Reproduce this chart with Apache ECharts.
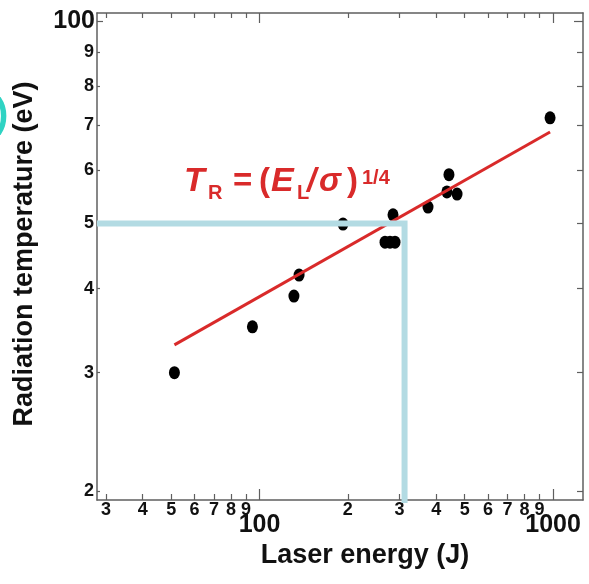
<!DOCTYPE html>
<html>
<head>
<meta charset="utf-8">
<script src="https://cdn.jsdelivr.net/npm/echarts@6/dist/echarts.min.js"></script>
<style>
  html, body { margin: 0; padding: 0; background: #fff; }
  #chart { width: 589px; height: 584px; }
</style>
</head>
<body>
<div id="chart"></div>
<script>
// Measured shots: laser energy (J) and radiation temperature (eV)
const shotEnergy      = [51.3, 94.6, 131, 136.4, 192.5, 267.7, 278.4, 289.5, 285, 375, 435, 442, 471, 977];
const shotTemperature = [3.00, 3.51, 3.90, 4.19, 4.99, 4.69, 4.69, 4.69, 5.15, 5.29, 5.57, 5.91, 5.53, 7.18];

// Scaling law T_R = (E_L/sigma)^(1/4): end points of the fitted line
const fitEnergy      = [51.3, 977];
const fitTemperature = [3.30, 6.84];

// Read-off guide: 5 eV reached at about 312 J
const guideEnergy      = [27.95, 312, 312];
const guideTemperature = [5, 5, 1.92];

// Axis extents (data units)
const xRange = [27.95, 1265];
const yRange = [1.94, 10.28];

// Tick positions and their labels
const xMinorTicks  = [30, 40, 50, 60, 70, 80, 90, 200, 300, 400, 500, 600, 700, 800, 900];
const xMinorLabels = ['3', '4', '5', '6', '7', '8', '9', '2', '3', '4', '5', '6', '7', '8', '9'];
const xMajorTicks  = [100, 1000];
const xMajorLabels = ['100', '1000'];
const yMinorTicks  = [2, 3, 4, 5, 6, 7, 8, 9];
const yMinorLabels = ['2', '3', '4', '5', '6', '7', '8', '9'];
const yMajorTicks  = [10];
const yMajorLabels = ['100'];

const FONT = "'Liberation Sans', Arial, Helvetica, sans-serif";
const AXIS_COLOR = '#5f5f5f';
const TEXT_COLOR = '#111';
const RED = '#d92a2a';
const GUIDE_BLUE = '#b3dbe3';

// Both axes are logarithmic: everything is placed in log10 space.
const lg = Math.log10;
const toLogPairs = (xs, ys) => xs.map((x, i) => [lg(x), lg(ys[i])]);

function nearestIndex(list, v) {
  let best = 0;
  for (let i = 1; i < list.length; i++) {
    if (Math.abs(list[i] - v) < Math.abs(list[best] - v)) best = i;
  }
  return best;
}

function makeAxis(position, range, ticks, labels, tickLen, labelStyle, showLine) {
  const logTicks = ticks.map(lg);
  return {
    type: 'value',
    position: position,
    min: lg(range[0]),
    max: lg(range[1]),
    axisLine: { show: showLine, onZero: false, lineStyle: { color: AXIS_COLOR, width: 1.5 } },
    axisTick: {
      show: true, inside: true, length: tickLen,
      customValues: logTicks,
      lineStyle: { color: AXIS_COLOR, width: 1.2 }
    },
    axisLabel: labelStyle
      ? Object.assign({
          show: true,
          customValues: logTicks,
          formatter: v => labels[nearestIndex(logTicks, v)],
          color: TEXT_COLOR,
          fontFamily: FONT,
          fontWeight: 'bold'
        }, labelStyle)
      : { show: false },
    splitLine: { show: false }
  };
}

const chart = echarts.init(document.getElementById('chart'), null, { renderer: 'canvas' });

// Formula fragments: [text, left x, middle y, font size, italic]
const formulaParts = [
  ['T',   184, 181.5, 34, true],
  ['R',   208, 193.5, 20, false],
  ['=',   233, 181.5, 33, false],
  ['(',   259, 181.5, 33, false],
  ['E',   271, 181.5, 34, true],
  ['L',   297, 193.5, 20, false],
  ['/',   307, 181.5, 33, true],
  ['\u03C3', 319, 181.5, 33, true],
  [')',   347, 181.5, 33, false],
  ['1/4', 362, 178.5, 20, false]
];

const formulaGraphics = formulaParts.map(p => ({
  type: 'text',
  x: p[1], y: p[2],
  z: 10,
  style: {
    text: p[0],
    fill: RED,
    font: (p[4] ? 'italic ' : '') + 'bold ' + p[3] + 'px ' + FONT,
    align: 'left',
    verticalAlign: 'middle'
  }
}));

chart.setOption({
  animation: false,
  backgroundColor: '#fff',
  grid: { left: 97, right: 6, top: 13, bottom: 84 },
  xAxis: [
    makeAxis('bottom', xRange, xMinorTicks, xMinorLabels, 6, { fontSize: 18, margin: 1 }, true),
    makeAxis('bottom', xRange, xMajorTicks, xMajorLabels, 11, { fontSize: 25, margin: 13 }, false),
    makeAxis('top', xRange, xMinorTicks, xMinorLabels, 5, null, true),
    makeAxis('top', xRange, xMajorTicks, xMajorLabels, 10, null, false)
  ],
  yAxis: [
    makeAxis('left', yRange, yMinorTicks, yMinorLabels, 3, { fontSize: 18, margin: 3 }, true),
    makeAxis('left', yRange, yMajorTicks, yMajorLabels, 6, { fontSize: 25, margin: 2 }, false),
    makeAxis('right', yRange, yMinorTicks, yMinorLabels, 6, null, true),
    makeAxis('right', yRange, yMajorTicks, yMajorLabels, 9, null, false)
  ],
  series: [
    {
      name: 'Shots',
      type: 'scatter',
      xAxisIndex: 0, yAxisIndex: 0,
      data: toLogPairs(shotEnergy, shotTemperature),
      symbol: 'circle',
      symbolSize: [11, 13],
      itemStyle: { color: '#000', opacity: 1 },
      z: 2
    },
    {
      name: 'Fit',
      type: 'line',
      xAxisIndex: 0, yAxisIndex: 0,
      data: toLogPairs(fitEnergy, fitTemperature),
      showSymbol: false,
      symbol: 'none',
      lineStyle: { color: RED, width: 3 },
      z: 3
    },
    {
      name: 'Guide',
      type: 'line',
      xAxisIndex: 0, yAxisIndex: 0,
      data: toLogPairs(guideEnergy, guideTemperature),
      showSymbol: false,
      symbol: 'none',
      clip: false,
      lineStyle: { color: GUIDE_BLUE, width: 6, join: 'miter', cap: 'butt' },
      z: 4
    }
  ],
  graphic: [
    {
      type: 'text',
      x: 365, y: 556,
      style: {
        text: 'Laser energy (J)',
        fill: TEXT_COLOR,
        font: 'bold 27px ' + FONT,
        align: 'center',
        verticalAlign: 'middle'
      }
    },
    {
      type: 'text',
      x: 25, y: 254,
      rotation: Math.PI / 2,
      style: {
        text: 'Radiation temperature (eV)',
        fill: TEXT_COLOR,
        font: 'bold 27px ' + FONT,
        align: 'center',
        verticalAlign: 'middle'
      }
    },
    {
      type: 'text',
      x: -5, y: 116,
      style: {
        text: ')',
        fill: '#2fd3c3',
        font: 'bold 40px ' + FONT,
        align: 'left',
        verticalAlign: 'middle'
      }
    }
  ].concat(formulaGraphics)
});
</script>
</body>
</html>
